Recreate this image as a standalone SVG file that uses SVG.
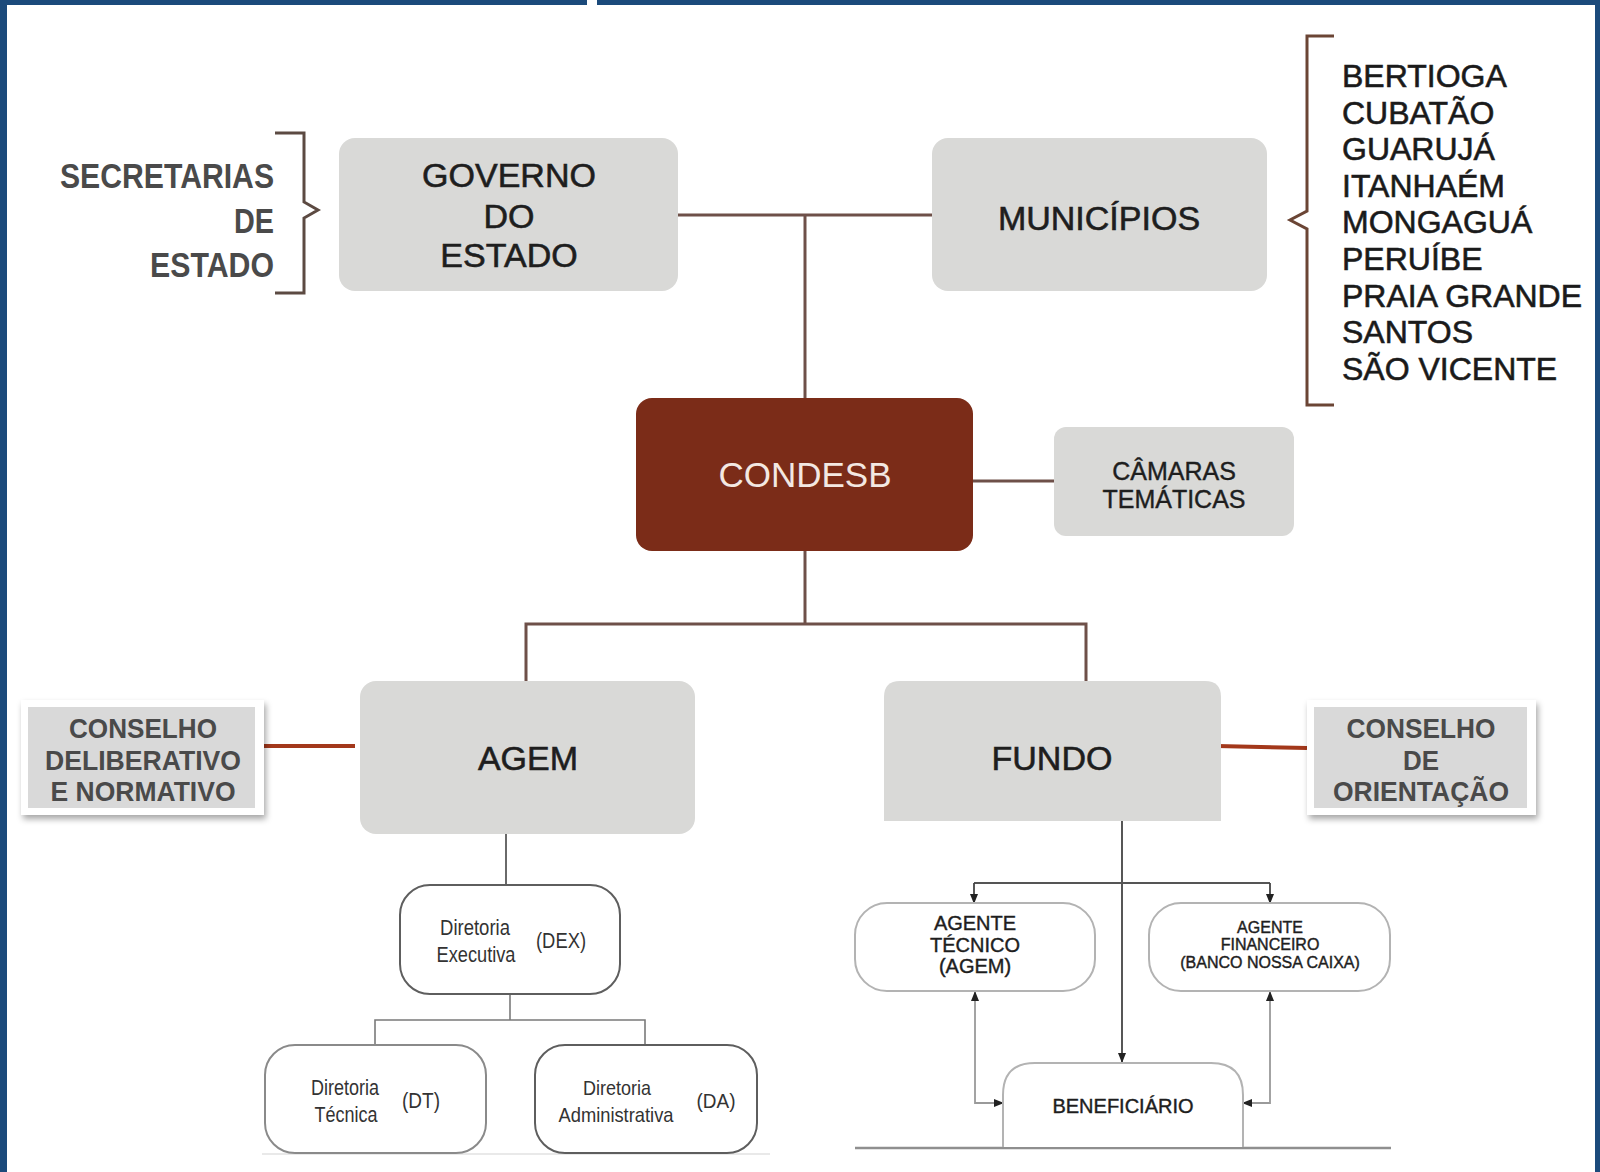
<svg xmlns="http://www.w3.org/2000/svg" width="1600" height="1172" viewBox="0 0 1600 1172">
<style>
.t{font-family:"Liberation Sans",Arial,Helvetica,sans-serif;text-anchor:middle;fill:#1e1e1e}
.h{stroke:#1e1e1e;stroke-width:0.6}
.b{font-weight:bold;fill:#4a4a4a}
.box{fill:#d9d9d7}
.conn{stroke:#6e5049;stroke-width:3;fill:none}
.red{stroke:#a3381b;stroke-width:4;fill:none}
.dir{fill:#fff;stroke:#5e5e5e;stroke-width:2}
.agt{fill:#fff;stroke:#b3b3b3;stroke-width:2}
.thin{stroke:#7a7a7a;stroke-width:1.6;fill:none}
.arr{stroke:#444;stroke-width:1.8;fill:none}
.arrl{stroke:#9a9a9a;stroke-width:1.8;fill:none}
.brk{stroke:#5c4a42;stroke-width:3;fill:none}
.sm{fill:#333}
</style>
<defs>
<marker id="ah" markerWidth="10" markerHeight="10" refX="9" refY="5" orient="auto-start-reverse" markerUnits="userSpaceOnUse">
<path d="M0,1 L10,5 L0,9 Z" fill="#222"/>
</marker>
<filter id="sh" x="-10%" y="-10%" width="125%" height="130%">
<feDropShadow dx="2" dy="4" stdDeviation="3" flood-color="#000" flood-opacity="0.35"/>
</filter>
</defs>
<rect width="1600" height="1172" fill="#fff"/>
<g id="frame" fill="#1b4a7b">
<rect x="0" y="0" width="587" height="5"/>
<rect x="597" y="0" width="1003" height="5"/>
<rect x="0" y="0" width="7" height="1172"/>
<rect x="1595" y="0" width="5" height="1172"/>
</g>

<g id="connectors">
<line class="conn" x1="677" y1="215" x2="932" y2="215"/>
<line class="conn" x1="805" y1="215" x2="805" y2="398"/>
<line class="conn" x1="973" y1="481" x2="1054" y2="481"/>
<line class="conn" x1="805" y1="551" x2="805" y2="624"/>
<polyline class="conn" points="526,681 526,624 1086,624 1086,681"/>
<line class="red" x1="264" y1="746" x2="355" y2="746"/>
<line class="red" x1="1217" y1="746" x2="1307" y2="748"/>
<line class="thin" x1="506" y1="834" x2="506" y2="884" style="stroke:#6a6a6a;stroke-width:2"/>
<line class="thin" x1="510" y1="994" x2="510" y2="1020"/>
<polyline class="thin" points="375,1045 375,1020 645,1020 645,1045"/>
<line class="arr" x1="1122" y1="821" x2="1122" y2="1062" marker-end="url(#ah)"/>
<line class="arr" x1="974" y1="883" x2="1270" y2="883" style="stroke:#555"/>
<line class="arr" x1="974" y1="883" x2="974" y2="903" marker-end="url(#ah)"/>
<line class="arr" x1="1270" y1="883" x2="1270" y2="903" marker-end="url(#ah)"/>
<path class="arrl" d="M975,992 L975,1103 L1003,1103" marker-start="url(#ah)" marker-end="url(#ah)"/>
<path class="arrl" d="M1270,992 L1270,1103 L1243,1103" marker-start="url(#ah)" marker-end="url(#ah)"/>
<line x1="855" y1="1148" x2="1391" y2="1148" stroke="#8f8f8f" stroke-width="2.5"/>
<line x1="262" y1="1154" x2="770" y2="1154" stroke="#e2e2e2" stroke-width="1.5"/>
</g>

<g id="secretarias">
<path class="brk" d="M275,133 L304,133 L304,202 L318,210 L304,218 L304,293 L275,293"/>
<text class="t b" style="text-anchor:end" font-size="35" x="274" y="188" textLength="214" lengthAdjust="spacingAndGlyphs">SECRETARIAS</text>
<text class="t b" style="text-anchor:end" font-size="35" x="274" y="233" textLength="40" lengthAdjust="spacingAndGlyphs">DE</text>
<text class="t b" style="text-anchor:end" font-size="35" x="274" y="277" textLength="124" lengthAdjust="spacingAndGlyphs">ESTADO</text>
</g>

<g id="governo">
<rect class="box" x="339" y="138" width="339" height="153" rx="16"/>
<text class="t h" font-size="34" x="509" y="187">GOVERNO</text>
<text class="t h" font-size="34" x="509" y="228">DO</text>
<text class="t h" font-size="34" x="509" y="267">ESTADO</text>
</g>

<g id="municipios">
<rect class="box" x="932" y="138" width="335" height="153" rx="16"/>
<text class="t h" font-size="34" x="1099" y="230">MUNICÍPIOS</text>
</g>

<g id="cidades">
<path class="brk" d="M1334,36 L1307,36 L1307,211 L1290,220 L1307,229 L1307,405 L1334,405" style="stroke:#6b4535"/>
<g class="t h" font-size="32" style="text-anchor:start;fill:#1a1a1a">
<text x="1342" y="87">BERTIOGA</text>
<text x="1342" y="124">CUBATÃO</text>
<text x="1342" y="160">GUARUJÁ</text>
<text x="1342" y="197">ITANHAÉM</text>
<text x="1342" y="233">MONGAGUÁ</text>
<text x="1342" y="270">PERUÍBE</text>
<text x="1342" y="307">PRAIA GRANDE</text>
<text x="1342" y="343">SANTOS</text>
<text x="1342" y="380">SÃO VICENTE</text>
</g>
</g>

<g id="condesb">
<rect x="636" y="398" width="337" height="153" rx="16" fill="#7b2c18"/>
<text class="t" font-size="35" x="805" y="487" style="fill:#f3e8e2">CONDESB</text>
</g>

<g id="camaras">
<rect class="box" x="1054" y="427" width="240" height="109" rx="12"/>
<text class="t h" font-size="25" x="1174" y="480" style="stroke-width:0.4">CÂMARAS</text>
<text class="t h" font-size="25" x="1174" y="508" style="stroke-width:0.4">TEMÁTICAS</text>
</g>

<g id="agem">
<rect class="box" x="360" y="681" width="335" height="153" rx="16"/>
<text class="t h" font-size="34" x="528" y="770">AGEM</text>
</g>

<g id="fundo">
<path class="box" d="M900,681 L1205,681 Q1221,681 1221,697 L1221,821 L884,821 L884,697 Q884,681 900,681 Z"/>
<text class="t h" font-size="34" x="1052" y="770">FUNDO</text>
</g>

<g id="conselho-deliberativo">
<rect x="21" y="700" width="243" height="115" fill="#fff" filter="url(#sh)"/>
<rect x="28" y="707" width="227" height="101" fill="#d9d9d9"/>
<text class="t b" font-size="28" x="143" y="738" textLength="148" lengthAdjust="spacingAndGlyphs">CONSELHO</text>
<text class="t b" font-size="28" x="143" y="770" textLength="196" lengthAdjust="spacingAndGlyphs">DELIBERATIVO</text>
<text class="t b" font-size="28" x="143" y="801" textLength="185" lengthAdjust="spacingAndGlyphs">E NORMATIVO</text>
</g>

<g id="conselho-orientacao">
<rect x="1307" y="700" width="229" height="115" fill="#fff" filter="url(#sh)"/>
<rect x="1314" y="707" width="213" height="101" fill="#d9d9d9"/>
<text class="t b" font-size="28" x="1421" y="738" textLength="149" lengthAdjust="spacingAndGlyphs">CONSELHO</text>
<text class="t b" font-size="28" x="1421" y="770" textLength="36" lengthAdjust="spacingAndGlyphs">DE</text>
<text class="t b" font-size="28" x="1421" y="801" textLength="176" lengthAdjust="spacingAndGlyphs">ORIENTAÇÃO</text>
</g>

<g id="dex">
<rect class="dir" x="400" y="885" width="220" height="109" rx="30"/>
<text class="t sm" font-size="22" x="475" y="935" textLength="70" lengthAdjust="spacingAndGlyphs">Diretoria</text>
<text class="t sm" font-size="22" x="476" y="962" textLength="79" lengthAdjust="spacingAndGlyphs">Executiva</text>
<text class="t sm" font-size="22" x="561" y="948" textLength="50" lengthAdjust="spacingAndGlyphs">(DEX)</text>
</g>

<g id="dt">
<rect class="dir" x="265" y="1045" width="221" height="108" rx="30" style="stroke:#8a8a8a"/>
<text class="t sm" font-size="22" x="345" y="1095" textLength="68" lengthAdjust="spacingAndGlyphs">Diretoria</text>
<text class="t sm" font-size="22" x="346" y="1122" textLength="63" lengthAdjust="spacingAndGlyphs">Técnica</text>
<text class="t sm" font-size="22" x="421" y="1108" textLength="38" lengthAdjust="spacingAndGlyphs">(DT)</text>
</g>

<g id="da">
<rect class="dir" x="535" y="1045" width="222" height="108" rx="30" style="stroke:#5e5e5e"/>
<text class="t sm" font-size="21" x="617" y="1095" textLength="68" lengthAdjust="spacingAndGlyphs">Diretoria</text>
<text class="t sm" font-size="21" x="616" y="1122" textLength="115" lengthAdjust="spacingAndGlyphs">Administrativa</text>
<text class="t sm" font-size="21" x="716" y="1108" textLength="39" lengthAdjust="spacingAndGlyphs">(DA)</text>
</g>

<g id="agente-tecnico">
<rect class="agt" x="855" y="903" width="240" height="88" rx="32"/>
<text class="t h" font-size="20" x="975" y="930" style="stroke-width:0.4">AGENTE</text>
<text class="t h" font-size="20" x="975" y="952" style="stroke-width:0.4">TÉCNICO</text>
<text class="t h" font-size="20" x="975" y="973" style="stroke-width:0.4">(AGEM)</text>
</g>

<g id="agente-financeiro">
<rect class="agt" x="1149" y="903" width="241" height="88" rx="32"/>
<text class="t h" font-size="16" x="1270" y="933" style="stroke-width:0.4">AGENTE</text>
<text class="t h" font-size="16" x="1270" y="950" style="stroke-width:0.4">FINANCEIRO</text>
<text class="t h" font-size="16" x="1270" y="968" style="stroke-width:0.4">(BANCO NOSSA CAIXA)</text>
</g>

<g id="beneficiario">
<path class="agt" d="M1003,1147 L1003,1095 Q1003,1063 1035,1063 L1211,1063 Q1243,1063 1243,1095 L1243,1147"/>
<text class="t h" font-size="20" x="1123" y="1113" style="stroke-width:0.4">BENEFICIÁRIO</text>
</g>
</svg>
